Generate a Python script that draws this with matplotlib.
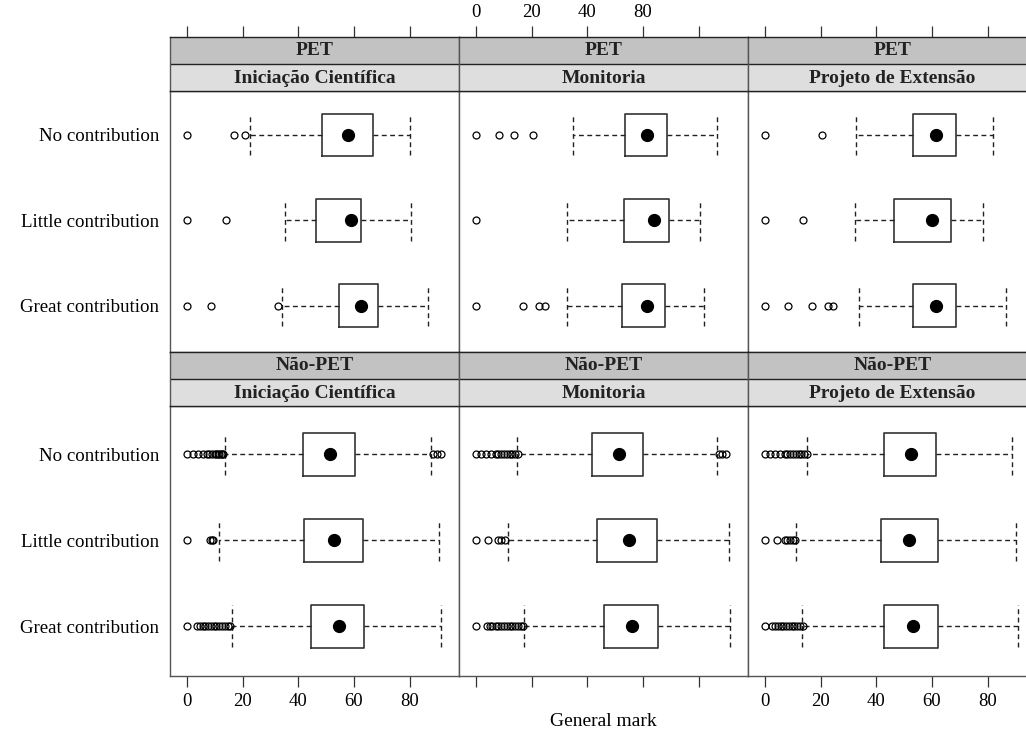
import matplotlib
matplotlib.use("Agg")
import matplotlib.pyplot as plt
from matplotlib.patches import Rectangle

plt.rcParams['font.family'] = ['Liberation Serif', 'DejaVu Serif']

# categories
groups = ["PET", "Não-PET"]
activities = ["Iniciação Científica", "Monitoria", "Projeto de Extensão"]
levels = ["Great contribution", "Little contribution", "No contribution"]  # bottom -> top

# box statistics, one row per panel (PET IC, PET Mon, PET Ext, Não IC, Não Mon, Não Ext)
# each row: values for Great, Little, No contribution
whislo = [[34.0, 35.1, 22.6], [32.7, 32.5, 34.9], [33.8, 32.4, 32.6],
          [16.0, 11.5, 13.6], [17.2, 11.4, 14.6], [13.2, 11.2, 15.1]]
q1 = [[54.5, 46.4, 48.6], [52.5, 53.1, 53.5], [53.0, 46.3, 53.1],
      [44.6, 41.9, 41.5], [45.8, 43.3, 41.7], [42.6, 41.6, 42.9]]
med = [[62.4, 59.0, 57.9], [61.4, 63.8, 61.5], [61.5, 60.0, 61.5],
       [54.6, 52.8, 51.2], [56.1, 54.8, 51.2], [53.0, 51.9, 52.5]]
q3 = [[68.8, 62.7, 66.7], [68.1, 69.3, 68.6], [68.6, 66.9, 68.6],
      [63.7, 63.3, 60.4], [65.4, 64.9, 60.0], [62.3, 62.3, 61.5]]
whishi = [[86.8, 80.7, 80.1], [82.1, 80.6, 86.7], [86.7, 78.5, 82.1],
          [91.2, 90.5, 87.9], [91.3, 90.9, 86.6], [91.1, 90.1, 88.7]]
fliers = [
    [[0, 8.5, 32.6], [0, 13.9], [0, 17, 20.8]],
    [[0, 16.8, 22.7, 24.8], [0], [0, 8.3, 13.7, 20.6]],
    [[0, 8.3, 16.8, 22.5, 24.3], [0, 13.6], [0, 20.5]],
    [[0, 3.5, 4.5, 5.5, 6.5, 7.5, 8.5, 9.5, 10.5, 11.5, 12.5, 13.5, 14.5, 15.5],
     [0, 8.3, 8.8, 9.2],
     [0, 2, 4, 5.5, 7, 8, 9, 10, 10.5, 11, 11.5, 12, 12.5, 13, 88.5, 90, 91.5]],
    [[0, 3.8, 4.8, 5.8, 7, 8, 9, 10, 11, 12, 13, 14, 15, 16, 17],
     [0, 4.4, 8, 9, 10.4],
     [0, 1.6, 3.4, 5.2, 7, 8, 9, 10, 11, 12, 13, 14, 15, 87.2, 88.5, 90]],
    [[0, 2.4, 3.5, 4.5, 5.5, 6.5, 7.5, 8.5, 9.5, 10.5, 11.5, 12.5, 13.5],
     [0, 4.2, 7.2, 8, 9, 10, 10.8],
     [0, 1.7, 3.4, 5.2, 7, 8, 9, 10, 11, 12, 13, 14, 15]],
]
xticks = [0, 20, 40, 60, 80]
xlabels_bottom = ["0", "20", "40", "60", "80"]
xlabels_top = ["0", "20", "40", "80", ""]  # as printed in the source figure

W, H = 1026, 732
fig = plt.figure(figsize=(W / 100, H / 100), dpi=100)

def fx(px):
    return px / W

def fy(py):
    return 1 - py / H

col_left = [170, 459, 748]
col_w = 289
# (strip top, strip mid, panel top, panel bottom) in pixels
row_geom = [(36.7, 63.5, 91.3, 352), (352, 379, 406, 676)]
row_ylim = [(0.46, 3.51), (0.42, 3.56)]

dash = (0, (3.5, 2.5))
edge = "#333333"
fs = 14

for r in range(2):
    s_top, s_mid, p_top, p_bot = row_geom[r]
    for c in range(3):
        k = r * 3 + c
        x0 = col_left[c]
        ax = fig.add_axes([fx(x0), fy(p_bot), fx(col_w), (p_bot - p_top) / H])
        stats = []
        for i in range(3):
            stats.append(dict(med=med[k][i], q1=q1[k][i], q3=q3[k][i],
                              whislo=whislo[k][i], whishi=whishi[k][i],
                              fliers=fliers[k][i]))
        ax.bxp(stats, positions=[1, 2, 3], widths=0.5, capwidths=0.48,
               orientation='horizontal',
               boxprops=dict(color=edge, linewidth=1.2),
               whiskerprops=dict(color="#222222", linewidth=1.0, linestyle=dash),
               capprops=dict(color="#222222", linewidth=1.0, linestyle=dash),
               medianprops=dict(linewidth=0),
               flierprops=dict(marker='o', markersize=5, markerfacecolor='none',
                               markeredgecolor='black', markeredgewidth=0.9))
        ax.plot(med[k], [1, 2, 3], 'o', color='black', markersize=8.5, zorder=5)
        ax.set_xlim(-6.2, 97.8)
        ax.set_ylim(*row_ylim[r])
        for sp in ax.spines.values():
            sp.set_color("#555555")
            sp.set_linewidth(1.0)
        if c == 0:
            ax.set_yticks([1, 2, 3])
            ax.set_yticklabels(levels, fontsize=13.6)
            ax.tick_params(axis='y', length=0, pad=8)
        else:
            ax.set_yticks([])
        if r == 1:
            ax.set_xticks(xticks)
            ax.tick_params(axis='x', direction='out', length=8, width=0.9,
                           labelsize=13.5, pad=4, color="#333333")
            if c == 1:
                ax.set_xticklabels([])
            else:
                ax.set_xticklabels(xlabels_bottom)
        else:
            ax.set_xticks([])

        # strips
        sax = fig.add_axes([fx(x0), fy(p_top), fx(col_w), (p_top - s_top) / H])
        sax.set_xlim(-6.2, 97.8)
        sax.set_ylim(0, 2)
        sax.add_patch(Rectangle((-6.2, 1), 104, 1, facecolor="#c2c2c2", edgecolor='none'))
        sax.add_patch(Rectangle((-6.2, 0), 104, 1, facecolor="#dedede", edgecolor='none'))
        sax.axhline(1, color="#222222", linewidth=1.0)
        sax.text(45.8, 1.5, groups[r], ha='center', va='center',
                 fontsize=fs, fontweight='bold', color="#222222")
        sax.text(45.8, 0.48, activities[c], ha='center', va='center',
                 fontsize=fs, fontweight='bold', color="#222222")
        sax.set_yticks([])
        for name, sp in sax.spines.items():
            sp.set_linewidth(1.0)
            sp.set_color("#222222" if name in ("top", "bottom") else "#555555")
        if r == 0:
            sax.set_xticks(xticks)
            sax.xaxis.tick_top()
            sax.tick_params(axis='x', direction='out', length=8, width=0.9,
                            labelsize=13.5, pad=3, color="#333333")
            if c != 1:
                sax.set_xticklabels([])
            else:
                sax.set_xticklabels(xlabels_top)
        else:
            sax.set_xticks([])

fig.text(fx(603), fy(722), "General mark", ha='center', va='center', fontsize=fs)

fig.savefig("out.png", dpi=100)
